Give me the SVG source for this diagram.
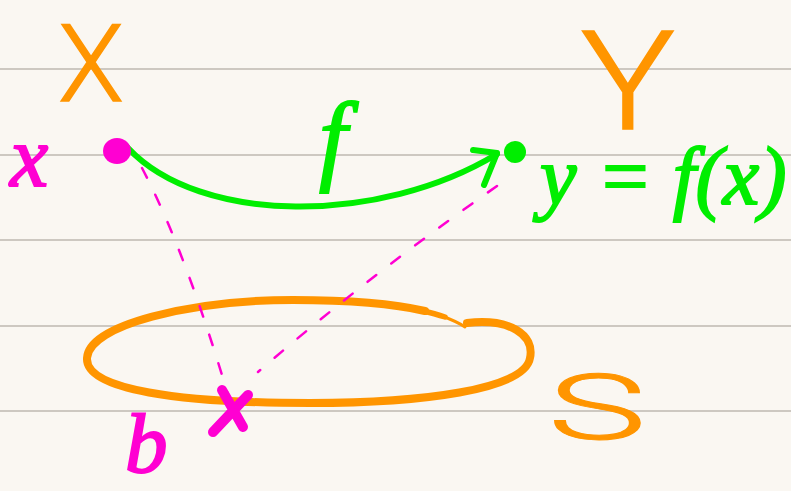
<svg xmlns="http://www.w3.org/2000/svg" width="791" height="491" viewBox="0 0 791 491">
  <defs>
    <style>
      .rule { stroke: #cdc8c1; stroke-width: 2; }
      .orange { fill: #ff9500; }
      .green { fill: #00ee00; }
      .magenta { fill: #ff00d2; }
      .upper { font-family: Roboto, "Liberation Sans", sans-serif; font-weight: 300; }
      .math { font-family: "Liberation Serif", serif; font-style: italic; }
      .pen-orange { fill: none; stroke: #ff9500; stroke-linecap: round; stroke-linejoin: round; }
      .pen-green { fill: none; stroke: #00ee00; stroke-width: 6; stroke-linecap: round; stroke-linejoin: round; }
      .pen-magenta { fill: none; stroke: #ff00d2; stroke-linecap: round; stroke-linejoin: round; }
      .dash { fill: none; stroke: #ff00d2; stroke-width: 2.5; stroke-linecap: round; stroke-dasharray: 11 19; }
    </style>
  </defs>

  <rect width="791" height="491" fill="#faf7f2"/>
  <g id="rules">
    <line class="rule" x1="0" y1="69" x2="791" y2="69"/>
    <line class="rule" x1="0" y1="155" x2="791" y2="155"/>
    <line class="rule" x1="0" y1="240" x2="791" y2="240"/>
    <line class="rule" x1="0" y1="326" x2="791" y2="326"/>
    <line class="rule" x1="0" y1="411" x2="791" y2="411"/>
  </g>

  <g id="set-X">
    <text class="upper orange" x="91" y="101" font-size="107" text-anchor="middle" stroke="#ff9500" stroke-width="1.5">X</text>
  </g>

  <g id="set-Y">
    <text class="upper orange" transform="translate(628,129) scale(1.15,1)" font-size="137" text-anchor="middle" stroke="#ff9500" stroke-width="1.5">Y</text>
  </g>

  <g id="set-S">
    <path class="pen-orange" stroke-width="8" d="M467,323 C510,318 535,335 530,358 C525,390 420,403 310,403 C180,403 85,390 87,358 C89,325 190,300 293,300 C350,300 395,304 425,311"/>
    <path class="pen-orange" stroke-width="5.5" d="M420,310 C428,312 436,314 445,317"/>
    <path class="pen-orange" stroke-width="3" d="M442,316 C450,319 458,322 465,327"/>
    <text class="upper orange" transform="translate(597,439) scale(1.85,1)" font-size="90" text-anchor="middle" stroke="#ff9500" stroke-width="1">S</text>
  </g>

  <g id="connectors">
    <path class="pen-green" d="M128,148 C200,225 380,225 497,154"/>
    <path class="pen-green" d="M473,150 L497,153 L484,185"/>
    <path class="dash" d="M142,168 Q185,250 228,395"/>
    <path class="dash" d="M497,186 Q370,275 258,372"/>
  </g>

  <g id="label-f">
    <text class="math green" x="333" y="172" font-size="100" text-anchor="middle" stroke="#00ee00" stroke-width="2">f</text>
  </g>

  <g id="point-x">
    <ellipse class="magenta" cx="117" cy="151" rx="14" ry="13"/>
    <text class="math magenta" x="10" y="186" font-size="86" stroke="#ff00d2" stroke-width="2">x</text>
  </g>

  <g id="point-fx">
    <circle class="green" cx="515" cy="152" r="11"/>
    <text class="math green" x="540" y="204" font-size="82" stroke="#00ee00" stroke-width="2">y = f(x)</text>
  </g>

  <g id="point-b">
    <path class="pen-magenta" stroke-width="10" d="M222,390 L243,427 M248,395 L213,432"/>
    <text class="math magenta" x="125" y="472" font-size="85" stroke="#ff00d2" stroke-width="2">b</text>
  </g>
</svg>
